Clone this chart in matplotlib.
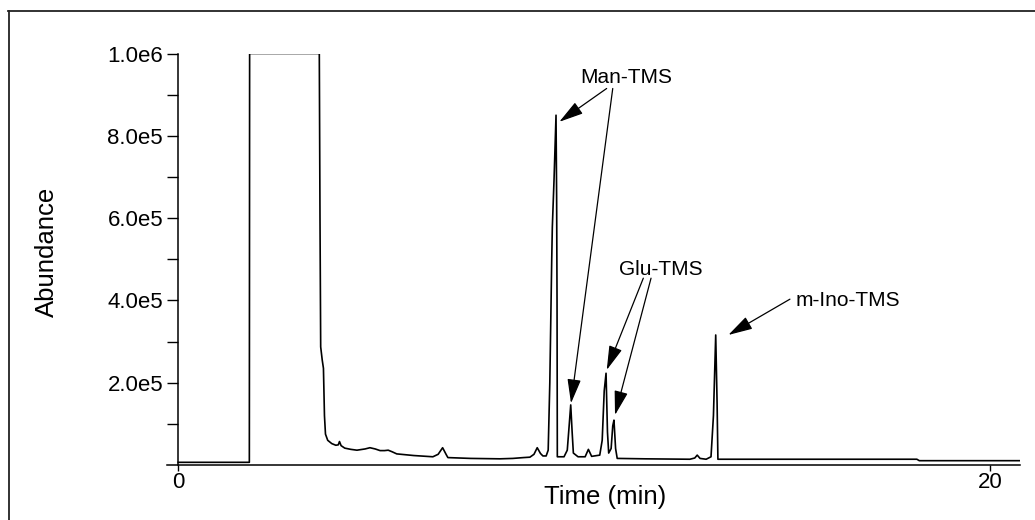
import matplotlib
matplotlib.use("Agg")
import matplotlib.pyplot as plt
from matplotlib.lines import Line2D

plt.rcParams['font.family'] = ['Liberation Sans', 'DejaVu Sans']

# ---- data ----
time_min = [0.00, 1.75, 1.757, 3.473, 3.49, 3.507, 3.545, 3.575, 3.60, 3.625,
            3.68, 3.78, 3.88, 3.94, 3.97, 4.01, 4.10, 4.25, 4.40, 4.60,
            4.72, 4.85, 4.97, 5.08, 5.17, 5.27, 5.38, 5.80, 6.27, 6.40,
            6.51, 6.60, 6.64, 7.20, 7.92, 8.24, 8.50, 8.66, 8.76, 8.84,
            8.92, 8.98, 9.06, 9.11, 9.15, 9.197, 9.212, 9.254, 9.303, 9.318,
            9.328, 9.335, 9.50, 9.58, 9.63, 9.665, 9.70, 9.73, 9.845, 10.02,
            10.10, 10.18, 10.38, 10.44, 10.49, 10.535, 10.57, 10.60, 10.66, 10.70,
            10.73, 10.77, 10.81, 11.50, 12.60, 12.72, 12.78, 12.85, 13.00, 13.12,
            13.18, 13.236, 13.27, 13.29, 18.19, 18.25, 20.73]
abundance = [6.5e3, 6.5e3, 1.0e6, 1.0e6, 6.0e5, 2.87e5, 2.55e5, 2.35e5, 1.2e5, 7.5e4,
             6.0e4, 5.2e4, 4.8e4, 4.9e4, 5.7e4, 4.7e4, 4.1e4, 3.8e4, 3.6e4, 3.9e4,
             4.2e4, 3.9e4, 3.5e4, 3.5e4, 3.6e4, 3.2e4, 2.7e4, 2.3e4, 2.0e4, 2.6e4,
             4.2e4, 2.5e4, 1.8e4, 1.6e4, 1.5e4, 1.6e4, 1.8e4, 1.9e4, 2.6e4, 4.2e4,
             2.8e4, 2.2e4, 2.2e4, 3.6e4, 2.0e5, 4.98e5, 5.78e5, 6.93e5, 8.5e5, 6.5e5,
             4.0e5, 2.0e4, 2.0e4, 3.6e4, 1.0e5, 1.46e5, 8.0e4, 2.9e4, 2.0e4, 2.0e4,
             3.8e4, 2.1e4, 2.4e4, 6.0e4, 1.8e5, 2.23e5, 8.0e4, 2.9e4, 4.0e4, 9.5e4,
             1.09e5, 4.0e4, 1.6e4, 1.5e4, 1.4e4, 1.7e4, 2.4e4, 1.6e4, 1.4e4, 2.0e4,
             1.2e5, 3.16e5, 1.5e5, 1.4e4, 1.4e4, 1.05e4, 1.05e4]

x_ticks = [0, 20]
x_tick_labels = ["0", "20"]
y_major = [2e5, 4e5, 6e5, 8e5, 1e6]
y_major_labels = ["2.0e5", "4.0e5", "6.0e5", "8.0e5", "1.0e6"]
y_minor = [1e5, 3e5, 5e5, 7e5, 9e5]

labels = ["Man-TMS", "Glu-TMS", "m-Ino-TMS"]
label_pos = [(11.044, 9.275e5), (11.884, 4.62e5), (16.495, 3.86e5)]
arrows = [  # (tail, tip)
    ((10.55, 9.15e5), (9.384, 8.34e5)),
    ((10.70, 9.15e5), (9.672, 1.50e5)),
    ((11.453, 4.54e5), (10.552, 2.31e5)),
    ((11.643, 4.54e5), (10.756, 1.215e5)),
    ((15.064, 4.03e5), (13.547, 3.16e5)),
]

# ---- figure ----
fig = plt.figure(figsize=(10.35, 5.2), dpi=100)
ax = fig.add_axes([167/1035, 1-465/520, (1020-167)/1035, (465-53.5)/520])

ax.plot(time_min, abundance, color='black', lw=1.2)

ax.set_xlim(-0.278, 20.73)
ax.set_ylim(0, 1e6)

ax.spines['top'].set_visible(False)
ax.spines['right'].set_visible(False)
ax.spines['left'].set_position(('data', 0))
ax.spines['left'].set_linewidth(1.1)
ax.spines['bottom'].set_linewidth(1.1)

ax.set_xticks(x_ticks)
ax.set_xticklabels(x_tick_labels)
ax.set_yticks(y_major)
ax.set_yticklabels(y_major_labels)
ax.set_yticks(y_minor, minor=True)

ax.tick_params(axis='y', which='both', direction='out', length=8, width=1.0,
               pad=3, labelsize=16)
ax.tick_params(axis='x', which='major', direction='out', length=4, width=1.0,
               pad=1, labelsize=16)

for txt, (tx, ty) in zip(labels, label_pos):
    ax.text(tx, ty, txt, ha='center', va='baseline', fontsize=15)

for tail, tip in arrows:
    ax.annotate('', xy=tip, xytext=tail, xycoords='data', textcoords='data',
                arrowprops=dict(arrowstyle='-|>,head_length=1.5,head_width=0.42',
                                mutation_scale=10, color='black', lw=0.9,
                                shrinkA=0, shrinkB=0))

fig.text(46.7/1035, 1-252/520, "Abundance", rotation=90, ha='center', va='center',
         fontsize=18.5)
fig.text(605/1035, 1-497/520, "Time (min)", ha='center', va='center', fontsize=18.5)

# outer frame (top and left edges visible)
fig.add_artist(Line2D([8/1035, 1.0], [1-11/520, 1-11/520], transform=fig.transFigure,
                      color='#222222', lw=1.3))
fig.add_artist(Line2D([9/1035, 9/1035], [1-11/520, 0.0], transform=fig.transFigure,
                      color='#222222', lw=1.3))

fig.savefig("out.png", dpi=100)
